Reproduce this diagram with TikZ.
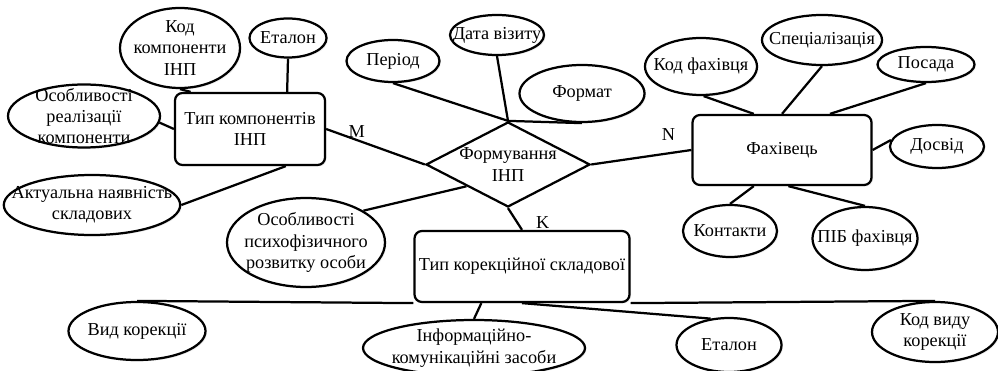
\documentclass[tikz,border=0pt]{standalone}
\usepackage{fontspec}
\setmainfont{Liberation Serif}
\usetikzlibrary{positioning,shapes.geometric,shadows}

\begin{document}
\begin{tikzpicture}[
    x=0.0235cm, y=-0.0235cm,
    font=\fontsize{12.2}{14.3}\selectfont,
    boxSize/.style 2 args={minimum width=#1*0.0235cm, minimum height=#2*0.0235cm},
    entityStyle/.style={
        rectangle, rounded corners=5pt, draw=black, fill=white, line width=1.5pt,
        align=center, inner sep=0pt,
        drop shadow={opacity=0.15, shadow xshift=1pt, shadow yshift=-1pt}
    },
    relStyle/.style={
        diamond, aspect=2, draw=black, fill=white, line width=1.5pt,
        align=center, inner sep=0pt
    },
    attrStyle/.style={
        ellipse, draw=black, fill=white, line width=1.5pt,
        align=center, inner sep=-12pt,
        drop shadow={opacity=0.15, shadow xshift=1pt, shadow yshift=-1pt}
    },
    lineStyle/.style={line width=1.5pt, draw=black},
    cardStyle/.style={inner sep=0pt, fill=none}
]
    \useasboundingbox (0,0) rectangle (998,371);

    % Entities
    \node[entityStyle, boxSize={150}{72}] (tipKomp) at (250,129) {Тип компонентів\\ІНП};
    \node[entityStyle, boxSize={179}{70}] (fakhivets) at (782,150) {Фахівець};
    \node[entityStyle, boxSize={215}{71}] (tipKor) at (522,266.5) {Тип корекційної складової};

    % Relationship
    \node[relStyle, boxSize={163}{85}] (form) at (508,164.5) {Формування\\ІНП};

    % Attributes of Тип компонентів ІНП
    \node[attrStyle, boxSize={120}{80}] (kodKomp) at (180,48) {Код\\компоненти\\ІНП};
    \node[attrStyle, boxSize={77}{39}] (etalonKomp) at (288,38) {Еталон};
    \node[attrStyle, boxSize={152}{63}] (osobReal) at (84,116) {Особливості\\реалізації\\компоненти};
    \node[attrStyle, boxSize={166}{60}] (aktNayav) at (92,205) {Актуальна наявність\\складових};

    % Attributes of Формування ІНП
    \node[attrStyle, boxSize={93}{42}] (period) at (393,61) {Період};
    \node[attrStyle, boxSize={94}{40}] (dataViz) at (497,35) {Дата візиту};
    \node[attrStyle, boxSize={125}{57}] (format) at (582,93.5) {Формат};
    \node[attrStyle, boxSize={158}{89}] (osobPsykh) at (306,242.5) {Особливості\\психофізичного\\розвитку особи};

    % Attributes of Фахівець
    \node[attrStyle, boxSize={112}{57}] (kodFakh) at (701,66.5) {Код фахівця};
    \node[attrStyle, boxSize={120}{50}] (spec) at (822,40) {Спеціалізація};
    \node[attrStyle, boxSize={97}{35}] (posada) at (926,64.5) {Посада};
    \node[attrStyle, boxSize={94}{43}] (dosvid) at (937,146.5) {Досвід};
    \node[attrStyle, boxSize={94}{52}] (kontakty) at (730,231) {Контакти};
    \node[attrStyle, boxSize={105}{63}] (pib) at (865,238.5) {ПІБ фахівця};

    % Attributes of Тип корекційної складової
    \node[attrStyle, boxSize={137}{58}] (vidKor) at (137,331) {Вид корекції};
    \node[attrStyle, boxSize={222}{56}] (infKom) at (474,348) {Інформаційно-\\комунікаційні засоби};
    \node[attrStyle, boxSize={105}{54}] (etalonKor) at (729,345) {Еталон};
    \node[attrStyle, boxSize={126}{60}] (kodVyd) at (935,332) {Код виду\\корекції};

    % Relationship links
    \draw[lineStyle] (tipKomp.east) -- node[cardStyle, pos=0.31, above=1pt] (cardM) {M} (form.west);
    \draw[lineStyle] (form.east) -- node[cardStyle, pos=0.77, above=8pt] (cardN) {N} (fakhivets.west);
    \draw[lineStyle] (form.south) -- node[cardStyle, pos=0.65, right=12pt] (cardK) {K} (tipKor.north);

    % Attribute links
    \draw[lineStyle] (kodKomp.south) -- (tipKomp.148);
    \draw[lineStyle] (etalonKomp.south) -- (tipKomp.45);
    \draw[lineStyle] (osobReal.-5) -- (tipKomp.west);
    \draw[lineStyle] (aktNayav.east) -- (tipKomp.-46);

    \draw[lineStyle] (period.south) -- (form.north);
    \draw[lineStyle] (dataViz.south) -- (form.north);
    \draw[lineStyle] (form.north) -- (format.south);
    \draw[lineStyle] (osobPsykh.29) -- (form.south west);

    \draw[lineStyle] (kodFakh.-85) -- (fakhivets.128);
    \draw[lineStyle] (spec.south) -- (fakhivets.north);
    \draw[lineStyle] (posada.south) -- (fakhivets.37);
    \draw[lineStyle] (fakhivets.east) -- (dosvid.172);
    \draw[lineStyle] (fakhivets.-128) -- (kontakty.north);
    \draw[lineStyle] (fakhivets.-80) -- (pib.north);

    \draw[lineStyle] (vidKor.north) -- (tipKor.south west);
    \draw[lineStyle] (tipKor.south east) -- (kodVyd.north);
    \draw[lineStyle] (tipKor.222) -- (infKom.north);
    \draw[lineStyle] (tipKor.south) -- (etalonKor.125);
\end{tikzpicture}
\end{document}
